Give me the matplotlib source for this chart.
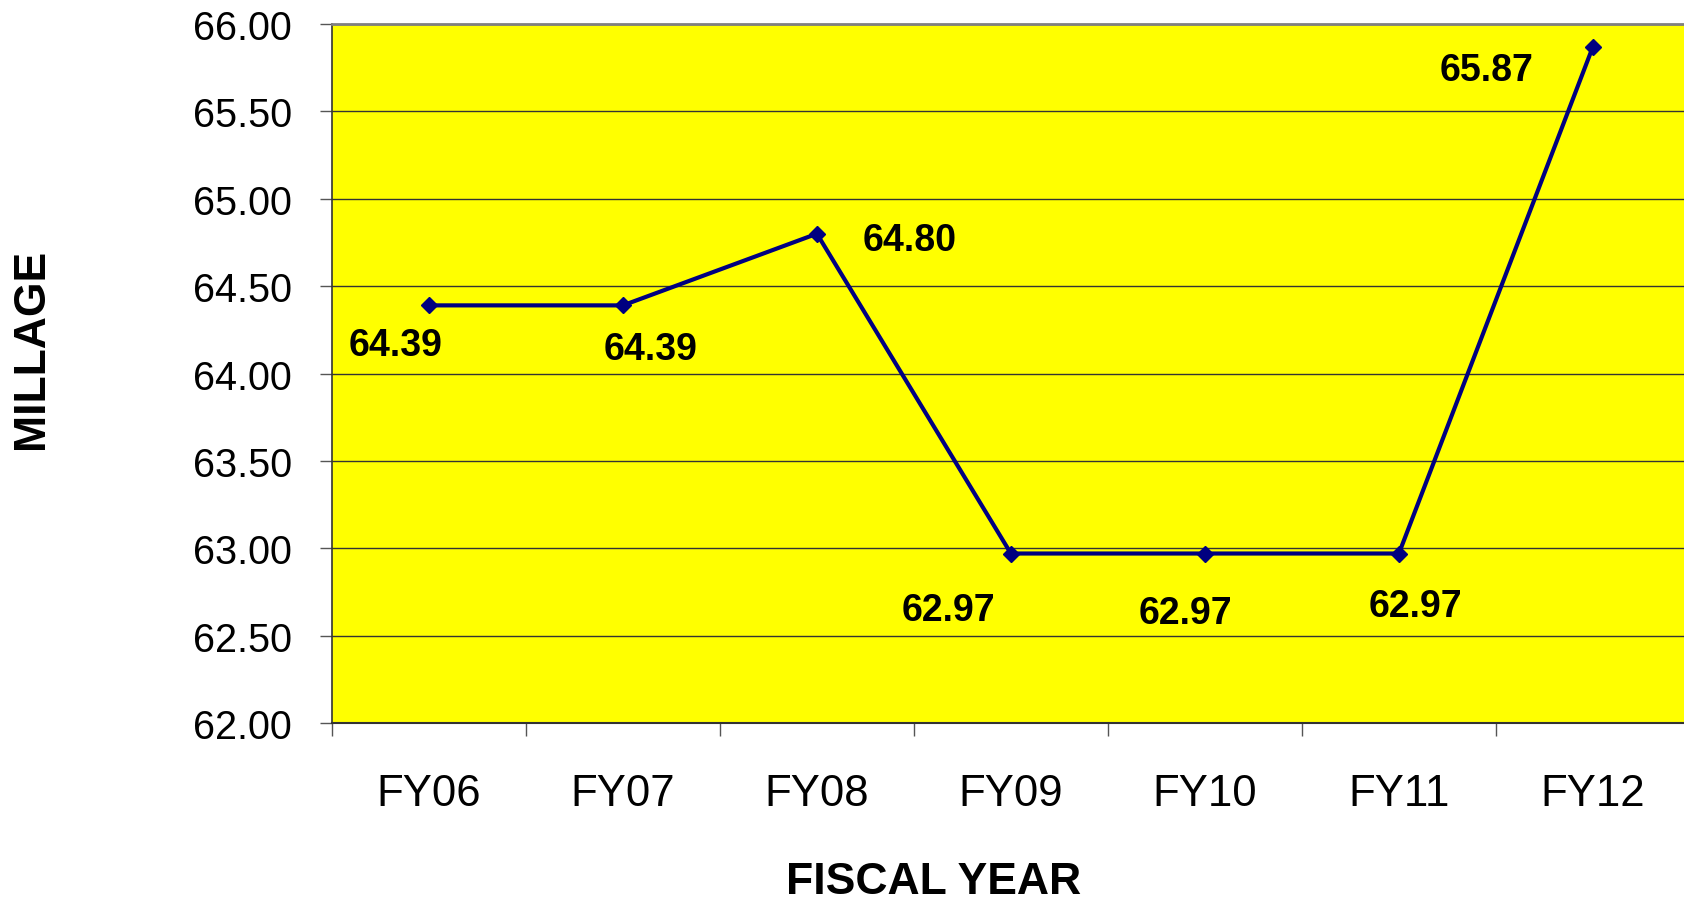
import matplotlib.pyplot as plt
from matplotlib.ticker import FixedLocator, FormatStrFormatter

plt.rcParams['font.family'] = ['Liberation Sans', 'DejaVu Sans']

years = ['FY06', 'FY07', 'FY08', 'FY09', 'FY10', 'FY11', 'FY12']
millage = [64.39, 64.39, 64.80, 62.97, 62.97, 62.97, 65.87]
# label offsets in pixels (dx, dy), from the picture
label_offsets = [(-33, -40), (28, -44), (93, -6), (-62, -56), (-19, -59), (17, -52), (-106, -23)]

fig = plt.figure(figsize=(16.84, 9.04), dpi=100)
ax = fig.add_axes([0.1971, 0.1991, 0.8064, 0.7732])
ax.set_facecolor('#ffff00')

x = list(range(len(years)))
ax.plot(x, millage, color='#000080', linewidth=3, marker='D', markersize=8,
        markerfacecolor='#000080', markeredgecolor='#000080', zorder=3)

for i, v in enumerate(millage):
    dx, dy = label_offsets[i]
    ax.annotate('%.2f' % v, (i, v), xytext=(dx, dy), textcoords='offset pixels',
                ha='center', va='center', fontsize=27, fontweight='bold', color='black')

ax.set_ylim(62, 66)
ax.set_yticks([62 + 0.5 * k for k in range(9)])
ax.yaxis.set_major_formatter(FormatStrFormatter('%.2f'))
ax.grid(axis='y', color='#333333', linewidth=1)
ax.set_axisbelow(True)

ax.set_xlim(-0.5, 6.5)
ax.xaxis.set_major_locator(FixedLocator([k - 0.5 for k in range(8)]))
ax.xaxis.set_minor_locator(FixedLocator(x))
ax.set_xticklabels([])
ax.set_xticklabels(years, minor=True)

ax.tick_params(axis='y', length=9, width=1, color='#555555', pad=20, labelsize=28.5)
ax.tick_params(axis='x', which='major', length=9.5, width=1, color='#555555')
ax.tick_params(axis='x', which='minor', length=0, pad=36, labelsize=31.5)

ax.spines['top'].set_color('#808080')
ax.spines['top'].set_linewidth(2)
ax.spines['right'].set_visible(False)
ax.spines['left'].set_color('#333333')
ax.spines['bottom'].set_color('#333333')
ax.spines['left'].set_linewidth(1.2)
ax.spines['bottom'].set_linewidth(1.5)

fig.text(934 / 1684, 1 - 883 / 904, 'FISCAL YEAR', ha='center', va='center',
         fontsize=32, fontweight='bold')
fig.text(32 / 1684, 1 - 349 / 904, 'MILLAGE', ha='center', va='center',
         rotation=90, fontsize=32, fontweight='bold')

fig.savefig('out.png', dpi=100)
